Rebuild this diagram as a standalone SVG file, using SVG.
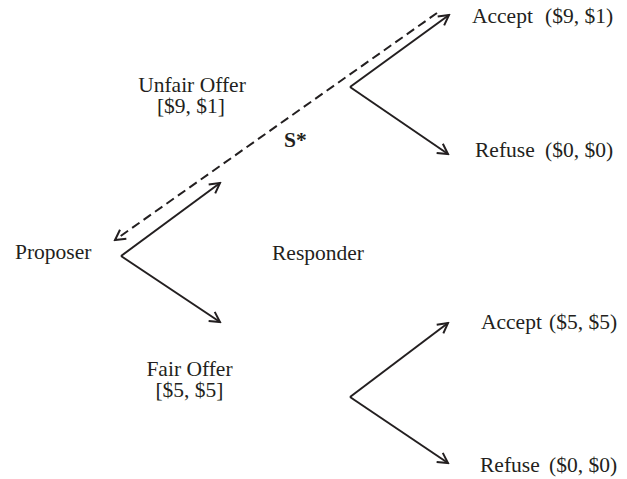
<svg xmlns="http://www.w3.org/2000/svg" width="627" height="479" viewBox="0 0 627 479">
<style>
text { font-family: "Liberation Serif", "Times New Roman", serif; font-size: 21.5px; fill: #231f20; }
.b { font-weight: bold; }
.ln { stroke: #231f20; stroke-width: 2; fill: none; }
.d { stroke-dasharray: 9 5; }
</style>
<defs>
<marker id="ah" markerUnits="userSpaceOnUse" markerWidth="14" markerHeight="14" viewBox="-12 -7 14 14" refX="0" refY="0" orient="auto">
<path d="M-10,-5.5 L0,0 L-10,5.5" fill="none" stroke="#231f20" stroke-width="2"/>
</marker>
</defs>
<rect width="627" height="479" fill="#fff"/>
<g id="connectors">
<line class="ln" x1="121" y1="256" x2="220" y2="183" marker-end="url(#ah)"/>
<line class="ln" x1="121" y1="256" x2="220" y2="322" marker-end="url(#ah)"/>
<line class="ln" x1="350" y1="87" x2="449" y2="15" marker-end="url(#ah)"/>
<line class="ln" x1="350" y1="87" x2="448" y2="154" marker-end="url(#ah)"/>
<line class="ln" x1="350" y1="397" x2="448" y2="323" marker-end="url(#ah)"/>
<line class="ln" x1="350" y1="397" x2="448" y2="463" marker-end="url(#ah)"/>
<line class="ln d" x1="437" y1="13" x2="115" y2="240" marker-end="url(#ah)"/>
</g>
<g id="proposer"><text x="15" y="259">Proposer</text></g>
<g id="responder"><text x="272" y="260">Responder</text></g>
<g id="unfair-offer"><text x="192" y="92" text-anchor="middle">Unfair Offer</text><text x="191" y="113" text-anchor="middle">[$9, $1]</text></g>
<g id="fair-offer"><text x="189.5" y="376" text-anchor="middle">Fair Offer</text><text x="189.5" y="397" text-anchor="middle">[$5, $5]</text></g>
<g id="s-star"><text class="b" x="284" y="147">S*</text></g>
<g id="accept-unfair"><text x="472" y="23">Accept<tspan x="545">($9, $1)</tspan></text></g>
<g id="refuse-unfair"><text x="475" y="157">Refuse<tspan x="545">($0, $0)</tspan></text></g>
<g id="accept-fair"><text x="481" y="329">Accept<tspan x="549">($5, $5)</tspan></text></g>
<g id="refuse-fair"><text x="480" y="472">Refuse<tspan x="549">($0, $0)</tspan></text></g>
</svg>
